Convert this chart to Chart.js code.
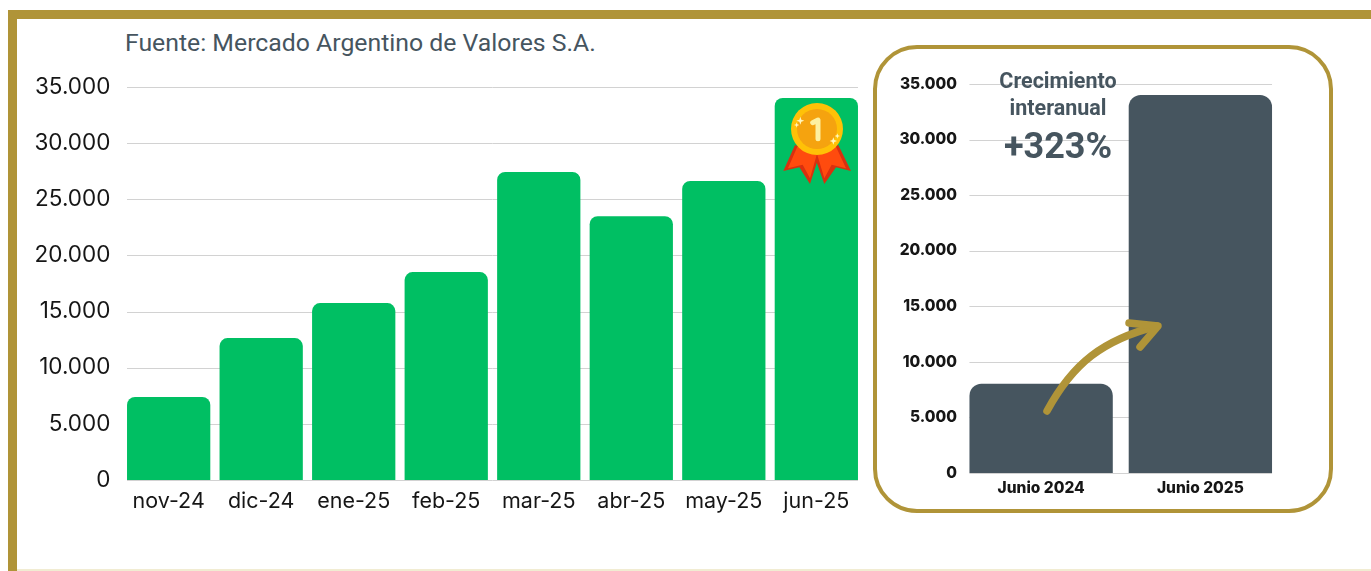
<!DOCTYPE html>
<html lang="es">
<head>
<meta charset="utf-8">
<title>Mercado Argentino de Valores</title>
<script src="https://cdn.jsdelivr.net/npm/chart.js@4"></script>
<style>
  html, body { margin: 0; padding: 0; background: #fff; }
  body { position: relative; width: 1371px; height: 571px; overflow: hidden; }
  .abs { position: absolute; }
  #frameTop { left: 8px; top: 10px; width: 1363px; height: 9px; background: #b09438; }
  #frameLeft { left: 8px; top: 10px; width: 9px; height: 561px; background: #b09438; }
  #frameBottom { left: 17px; top: 569px; width: 1354px; height: 2px; background: #f1ecd2; }
  #panel { left: 873px; top: 45px; width: 452px; height: 460px; border: 4px solid #b09438; border-radius: 44px; }
  #source { left: 125px; top: 28px; font: 24.8px Roboto, sans-serif; color: #46555f; white-space: nowrap; }
  #growth { left: 958px; top: 67px; width: 200px; text-align: center; font-family: Roboto, sans-serif; font-weight: 700; color: #46555f; }
  #growth .t { font-size: 21.5px; line-height: 27px; }
  #growth .p { font-size: 36px; line-height: 50px; }
  canvas { display: block; }
  svg { pointer-events: none; }
</style>
</head>
<body>
<div class="abs" id="frameTop"></div>
<div class="abs" id="frameLeft"></div>
<div class="abs" id="frameBottom"></div>
<div class="abs" id="panel"></div>
<div class="abs" id="source">Fuente: Mercado Argentino de Valores S.A.</div>

<div class="abs" style="left:0;top:60px;width:870px;height:460px"><canvas id="monthlyChart"></canvas></div>
<div class="abs" style="left:880px;top:60px;width:400px;height:440px"><canvas id="yearChart"></canvas></div>

<div class="abs" id="growth">
  <div class="t">Crecimiento</div>
  <div class="t">interanual</div>
  <div class="p">+323%</div>
</div>

<!-- medal -->
<svg class="abs" style="left:760px;top:80px" width="120" height="120" viewBox="0 0 360 360">
  <polygon points="105,195 70,273 118,262 150,312 178,225" fill="#d9300f"/>
  <polygon points="235,195 273,273 228,262 193,312 162,225" fill="#d9300f"/>
  <polygon points="112,200 84,265 128,254 150,295 170,225" fill="#ff4b0e"/>
  <polygon points="228,200 258,265 215,254 193,295 172,225" fill="#ff4b0e"/>
  <circle cx="171" cy="147" r="78" fill="#ffc107"/>
  <circle cx="171" cy="147" r="60" fill="#f5a30f"/>
  <path d="M158 128 L174 120 L174 176" fill="none" stroke="#fdf0a0" stroke-width="15" stroke-linecap="round" stroke-linejoin="round"/>
  <path d="M121 110 l3 9 9 3 -9 3 -3 9 -3 -9 -9 -3 9 -3z M110 127 l2 6 6 2 -6 2 -2 6 -2 -6 -6 -2 6 -2z M220 172 l3 8 8 3 -8 3 -3 8 -3 -8 -8 -3 8 -3z M232 160 l2 6 6 2 -6 2 -2 6 -2 -6 -6 -2 6 -2z" fill="#fff7c0"/>
</svg>

<!-- arrow -->
<svg class="abs" style="left:0;top:0" width="1371" height="571">
  <path d="M1047 411 C1073 363 1103 340 1157 326" fill="none" stroke="#b09438" stroke-width="7.5" stroke-linecap="round"/>
  <path d="M1129 323 L1158 326 L1140 347" fill="none" stroke="#b09438" stroke-width="7.5" stroke-linecap="round" stroke-linejoin="round"/>
</svg>

<script>
const monthLabels = ['nov-24', 'dic-24', 'ene-25', 'feb-25', 'mar-25', 'abr-25', 'may-25', 'jun-25'];
const monthValues = [7400, 12640, 15760, 18520, 27430, 23500, 26630, 34020];
const yearLabels = ['Junio 2024', 'Junio 2025'];
const yearValues = [8040, 34010];
const axisMax = 35000;
const axisStep = 5000;

const formatTick = v => String(v).replace(/\B(?=(\d{3})+$)/g, '.');

// gridlines only run between the outer bar edges, not the whole plot width
const barGrid = {
  id: 'barGrid',
  beforeDatasetsDraw(chart) {
    const { ctx, scales } = chart;
    const bars = chart.getDatasetMeta(0).data;
    const left = bars[0].x - bars[0].width / 2;
    const last = bars[bars.length - 1];
    const right = last.x + last.width / 2;
    ctx.save();
    ctx.strokeStyle = '#d2d2d2';
    ctx.lineWidth = 1;
    scales.y.ticks.forEach(t => {
      const y = Math.round(scales.y.getPixelForValue(t.value)) + 0.5;
      ctx.beginPath();
      ctx.moveTo(left, y);
      ctx.lineTo(right, y);
      ctx.stroke();
    });
    ctx.restore();
  }
};

const initChart = (id, labels, values, color, o) => new Chart(document.getElementById(id), {
  type: 'bar',
  data: {
    labels: labels,
    datasets: [{
      data: values,
      backgroundColor: color,
      borderRadius: o.radius,
      borderWidth: 0,
      barPercentage: 0.9,
      categoryPercentage: 1
    }]
  },
  options: {
    responsive: true,
    maintainAspectRatio: false,
    animation: false,
    layout: { padding: { top: o.top, right: o.right, left: 0, bottom: 0 } },
    plugins: { legend: { display: false }, tooltip: { enabled: false } },
    scales: {
      x: {
        grid: { display: false, drawTicks: false },
        border: { display: false },
        ticks: { color: '#161616', font: o.xFont, padding: o.xPad, maxRotation: 0, autoSkip: false },
        afterFit: s => { s.height = o.xHeight; }
      },
      y: {
        min: 0,
        max: axisMax,
        grid: { display: false, drawTicks: false },
        border: { display: false },
        ticks: { stepSize: axisStep, color: '#161616', font: o.yFont, padding: o.yPad, callback: formatTick },
        afterFit: s => { s.width = o.yWidth; }
      }
    }
  },
  plugins: [barGrid]
});

initChart('monthlyChart', monthLabels, monthValues, '#00bf63', {
  radius: 8, top: 27, right: 7.4, yWidth: 122.4, xHeight: 40, yPad: 12, xPad: 9,
  xFont: { family: 'Inter', size: 21.5 },
  yFont: { family: 'Inter', size: 22.5 }
});

initChart('yearChart', yearLabels, yearValues, '#46555f', {
  radius: 12, top: 24, right: 0, yWidth: 81.5, xHeight: 27, yPad: 4.5, xPad: 6,
  xFont: { family: 'Inter', size: 15.5, weight: '800' },
  yFont: { family: 'Inter', size: 15.5, weight: '800' }
});
</script>
</body>
</html>
